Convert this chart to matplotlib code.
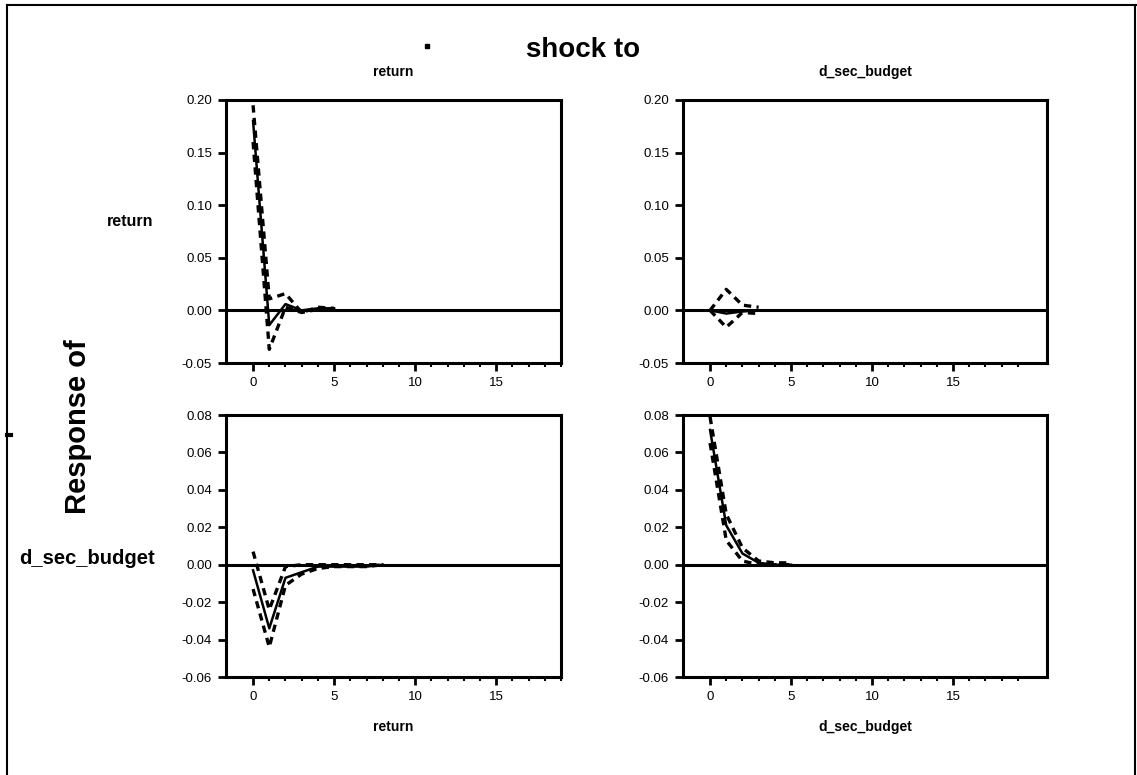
import matplotlib.pyplot as plt
from matplotlib.lines import Line2D

plt.rcParams['font.family'] = ['Liberation Sans', 'DejaVu Sans']

# impulse responses (horizon 0..)
t_rr = [0, 1, 2, 3, 4, 5]
rr_mid = [0.180, -0.014, 0.006, 0.000, 0.002, 0.002]
rr_up = [0.195, 0.011, 0.016, -0.002, 0.003, 0.002]
rr_lo = [0.160, -0.037, 0.003, -0.002, 0.001, 0.001]

t_rb = [0, 1, 2, 3]
rb_mid = [0.000, -0.003, -0.001, 0.000]
rb_up = [0.000, 0.020, 0.005, 0.003]
rb_lo = [0.000, -0.016, -0.002, -0.003]

t_br = [0, 1, 2, 3, 4, 5, 6, 7, 8]
br_mid = [-0.003, -0.034, -0.007, -0.004, -0.001, -0.001, -0.001, -0.001, 0.000]
br_up = [0.007, -0.024, -0.001, 0.000, 0.000, 0.000, 0.000, 0.000, 0.000]
br_lo = [-0.013, -0.044, -0.011, -0.005, -0.002, -0.001, -0.001, -0.001, 0.000]

t_bb = [0, 1, 2, 3, 4, 5]
bb_mid = [0.072, 0.021, 0.006, 0.001, 0.000, 0.000]
bb_up = [0.079, 0.027, 0.009, 0.002, 0.001, 0.001]
bb_lo = [0.065, 0.013, 0.002, 0.000, 0.000, 0.000]

var_names = ['return', 'd_sec_budget']
top_ticks = [-0.05, 0.00, 0.05, 0.10, 0.15, 0.20]
bot_ticks = [-0.06, -0.04, -0.02, 0.00, 0.02, 0.04, 0.06, 0.08]

W, H = 1137, 775
fig = plt.figure(figsize=(W / 100, H / 100), dpi=100)


def px_axes(x0, y0, x1, y1):
    return fig.add_axes([x0 / W, 1 - y1 / H, (x1 - x0) / W, (y1 - y0) / H])


def px_text(x, y, s, **kw):
    return fig.text(x / W, 1 - y / H, s, ha='center', va='center', **kw)


panels = [
    (px_axes(226, 100, 561, 363), t_rr, rr_mid, rr_up, rr_lo, top_ticks, (-1.67, 19.0)),
    (px_axes(683, 100, 1047, 363), t_rb, rb_mid, rb_up, rb_lo, top_ticks, (-1.67, 20.8)),
    (px_axes(226, 415, 561, 677), t_br, br_mid, br_up, br_lo, bot_ticks, (-1.67, 19.0)),
    (px_axes(683, 415, 1047, 677), t_bb, bb_mid, bb_up, bb_lo, bot_ticks, (-1.67, 20.8)),
]

for ax, t, mid, up, lo, yt, xl in panels:
    ax.axhline(0, color='black', lw=2.2, zorder=1)
    ax.plot(t, up, color='black', lw=2.4, ls=(0, (2.2, 1.6)), zorder=2)
    ax.plot(t, lo, color='black', lw=2.4, ls=(0, (2.2, 1.6)), zorder=2)
    ax.plot(t, mid, color='black', lw=1.8, zorder=3)
    ax.set_xlim(*xl)
    ax.set_ylim(yt[0], yt[-1])
    ax.set_yticks(yt)
    ax.set_yticklabels(['%.2f' % v for v in yt])
    ax.set_xticks([0, 5, 10, 15])
    ax.set_xticks(range(0, 20), minor=True)
    for s in ax.spines.values():
        s.set_linewidth(2.2)
    ax.tick_params(axis='both', which='major', labelsize=9.5, width=2, length=6,
                   direction='out', color='black', pad=4)
    ax.tick_params(axis='x', which='minor', width=1.5, length=3, direction='out')
    ax.tick_params(axis='y', which='minor', length=0)

# titles and labels
px_text(583, 50, 'shock to', fontsize=20, fontweight='bold')
fig.add_artist(Line2D([427 / W], [1 - 46 / H], marker='s', markersize=3.5,
                      color='black', ls='none'))
px_text(393, 72, var_names[0], fontsize=10, fontweight='bold')
px_text(865, 72, var_names[1], fontsize=10, fontweight='bold')
px_text(393, 727, var_names[0], fontsize=10, fontweight='bold')
px_text(865, 727, var_names[1], fontsize=10, fontweight='bold')
px_text(130, 221, var_names[0], fontsize=11.5, fontweight='bold')
px_text(87, 558, var_names[1], fontsize=14.5, fontweight='bold')
px_text(78, 427, 'Response of', rotation=90, fontsize=21, fontweight='bold')

# outer frame
fig.add_artist(Line2D([7 / W, 7 / W], [0, 1 - 5 / H], color='black', lw=1.5))
fig.add_artist(Line2D([7 / W, 1], [1 - 5 / H, 1 - 5 / H], color='black', lw=1.5))
fig.add_artist(Line2D([1135 / W, 1135 / W], [0, 1 - 5 / H], color='black', lw=1.5))
fig.add_artist(Line2D([7 / W, 11 / W], [1 - 435 / H, 1 - 435 / H], color='black', lw=3))

fig.savefig('out.png', dpi=100)
